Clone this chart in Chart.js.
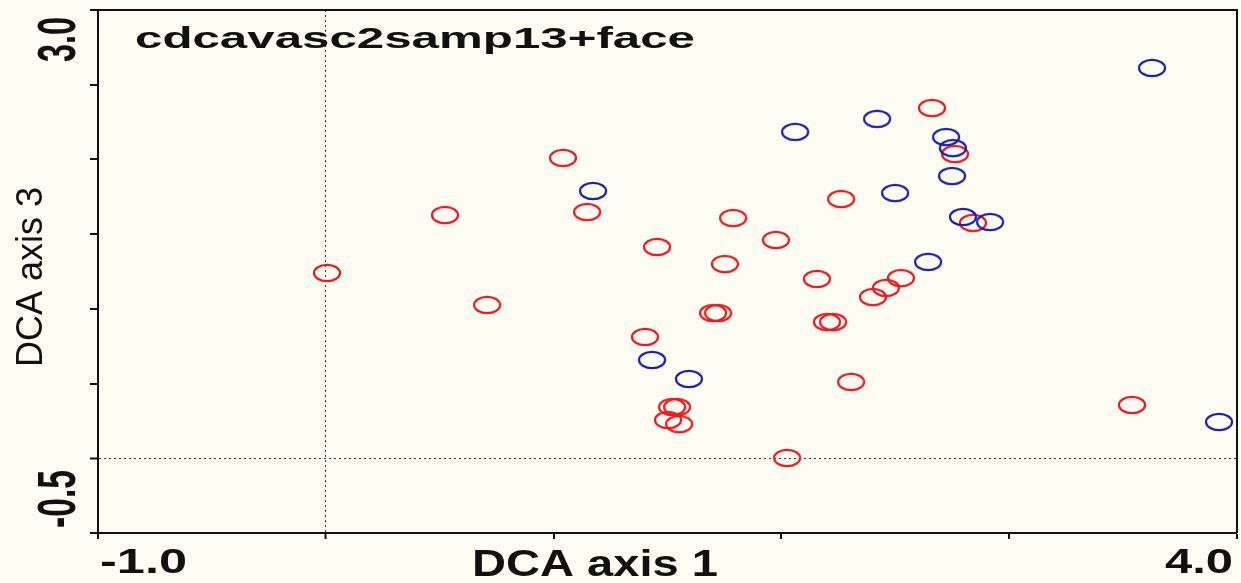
<!DOCTYPE html>
<html>
<head>
<meta charset="utf-8">
<script src="https://cdn.jsdelivr.net/npm/chart.js@4"></script>
<style>
  body { margin: 0; background: #fcfcf3; }
  #wrap { width: 1241px; height: 583px; }
</style>
</head>
<body>
<div id="wrap"><canvas id="canvas"></canvas></div>
<script>
// sample scores
var redX = [0.005, 0.523, 0.708, 1.041, 1.147, 1.454, 1.401, 1.752, 1.788, 1.700,
            1.722, 1.976, 1.520, 1.542, 1.502, 1.551, 2.025, 2.156, 2.200, 2.227,
            2.306, 2.262, 2.402, 2.459, 2.525, 2.661, 2.762, 2.841, 3.539];
var redY = [1.240, 1.628, 1.026, 2.010, 1.648, 1.414, 0.812, 1.300, 1.608, 0.972,
            0.972, 1.461, 0.343, 0.343, 0.256, 0.229, 0.002, 1.200, 0.912, 0.912,
            0.511, 1.735, 1.079, 1.140, 1.206, 2.344, 2.036, 1.575, 0.357];
var blueX = [1.173, 1.432, 1.594, 2.060, 2.420, 2.499, 2.644, 2.723, 2.753, 2.749,
             2.797, 2.916, 3.627, 3.921];
var blueY = [1.789, 0.658, 0.531, 2.184, 2.271, 1.775, 1.314, 2.150, 2.076, 1.889,
             1.615, 1.581, 2.612, 0.243];

var xMin = -1.0, xMax = 4.0, xStep = 1.0;
var yMin = -0.5, yMax = 3.0, yStep = 0.5;
var xTickLabels = ['-1.0', '4.0'];
var yTickLabels = ['-0.5', '3.0'];
var plotTitle = 'cdcavasc2samp13+face';
var xTitle = 'DCA axis 1';
var yTitle = 'DCA axis 3';

function toPoints(xs, ys) {
    return xs.map(function(x, i) { return {x: x, y: ys[i]}; });
}

function ellipseMarker(color) {
    var c = document.createElement('canvas');
    c.width = 32;
    c.height = 22;
    var g = c.getContext('2d');
    g.strokeStyle = color;
    g.lineWidth = 2.2;
    g.beginPath();
    g.ellipse(16, 11, 13, 8.2, 0, 0, 2 * Math.PI);
    g.stroke();
    return c;
}

// text with its own horizontal / vertical stretch, optionally turned 90 degrees
function drawText(ctx, txt, font, x, y, len, sy, rotated, align) {
    ctx.save();
    ctx.translate(x, y);
    if (rotated) ctx.rotate(-Math.PI / 2);
    ctx.font = font;
    ctx.fillStyle = '#111';
    ctx.textAlign = align;
    ctx.textBaseline = 'alphabetic';
    var m = ctx.measureText(txt).width;
    ctx.scale(len / m, sy);
    ctx.fillText(txt, 0, 0);
    ctx.restore();
}

var decor = {
    id: 'decor',
    beforeDraw: function(chart) {
        var ctx = chart.ctx;
        ctx.save();
        ctx.fillStyle = '#fcfcf3';
        ctx.fillRect(0, 0, chart.width, chart.height);
        ctx.restore();
    },
    afterDraw: function(chart) {
        var ctx = chart.ctx;
        var a = chart.chartArea;
        var xs = chart.scales.x, ys = chart.scales.y;

        // top and right frame
        ctx.save();
        ctx.strokeStyle = '#111';
        ctx.lineWidth = 2;
        ctx.beginPath();
        ctx.moveTo(a.left - 5, a.top);
        ctx.lineTo(a.right, a.top);
        ctx.lineTo(a.right, a.bottom);
        ctx.stroke();
        ctx.restore();

        var bold = 'bold {s}px "Liberation Sans", Arial, sans-serif';
        drawText(ctx, plotTitle, bold.replace('{s}', 30), a.left + 37, a.top + 38, 560, 1, false, 'left');

        drawText(ctx, xTickLabels[0], bold.replace('{s}', 35), xs.getPixelForValue(xMin) + 2, a.bottom + 40, 87, 1, false, 'left');
        drawText(ctx, xTickLabels[1], bold.replace('{s}', 35), xs.getPixelForValue(xMax) - 4, a.bottom + 40, 68, 1, false, 'right');
        drawText(ctx, xTitle, bold.replace('{s}', 36), 472, a.bottom + 43, 246, 1, false, 'left');

        drawText(ctx, yTickLabels[0], bold.replace('{s}', 32), a.left - 23, ys.getPixelForValue(yMin) - 5, 58, 1.66, true, 'left');
        drawText(ctx, yTickLabels[1], bold.replace('{s}', 32), a.left - 23, ys.getPixelForValue(yMax) + 7, 45, 1.66, true, 'right');
        drawText(ctx, yTitle, '36px "Liberation Sans", Arial, sans-serif', 42, 277, 180, 1, true, 'center');
    }
};

var zeroDotted = function(ctx) { return ctx.tick && ctx.tick.value === 0 ? 1 : 0; };

window.onload = function() {
    var ctx = document.getElementById('canvas').getContext('2d');
    window.myScatter = new Chart(ctx, {
        type: 'scatter',
        data: {
            datasets: [{
                label: 'blue',
                data: toPoints(blueX, blueY),
                pointStyle: ellipseMarker('#1d1fae'),
                pointRadius: 10,
                clip: false
            }, {
                label: 'red',
                data: toPoints(redX, redY),
                pointStyle: ellipseMarker('#f01820'),
                pointRadius: 10,
                clip: false
            }]
        },
        plugins: [decor],
        options: {
            responsive: true,
            maintainAspectRatio: false,
            animation: false,
            layout: { autoPadding: false, padding: { top: 10, right: 4, left: 0, bottom: 0 } },
            plugins: {
                legend: { display: false },
                tooltip: { enabled: false }
            },
            scales: {
                x: {
                    type: 'linear',
                    min: xMin,
                    max: xMax,
                    afterFit: function(scale) { scale.height = 50; },
                    ticks: { display: false, stepSize: xStep },
                    grid: {
                        lineWidth: zeroDotted,
                        color: '#333',
                        tickLength: 6,
                        tickWidth: 2,
                        tickColor: '#111'
                    },
                    border: { display: true, color: '#111', width: 2, dash: [2, 3] }
                },
                y: {
                    type: 'linear',
                    min: yMin,
                    max: yMax,
                    afterFit: function(scale) { scale.width = 98; },
                    ticks: { display: false, stepSize: yStep },
                    grid: {
                        lineWidth: zeroDotted,
                        color: '#333',
                        tickLength: 8,
                        tickWidth: 2,
                        tickColor: '#111'
                    },
                    border: { display: true, color: '#111', width: 2, dash: [2, 3] }
                }
            }
        }
    });
};
</script>
</body>
</html>
